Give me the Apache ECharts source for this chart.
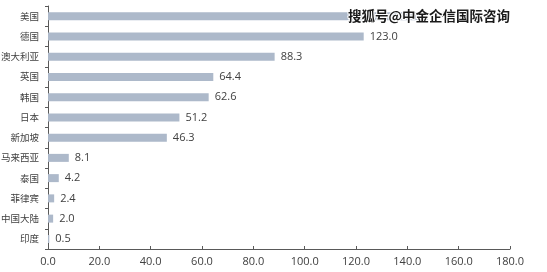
<!DOCTYPE html>
<html><head><meta charset="utf-8">
<script src="https://cdn.jsdelivr.net/npm/echarts@6/dist/echarts.min.js"></script>
<style>html,body{margin:0;padding:0;background:#fff}#c{width:547px;height:272px}</style>
</head><body><div id="c"></div>
<script>
const categories = ['美国','德国','澳大利亚','英国','韩国','日本','新加坡','马来西亚','泰国','菲律宾','中国大陆','印度'];
const values = [148.0,123.0,88.3,64.4,62.6,51.2,46.3,8.1,4.2,2.4,2.0,0.5];
const xTicks = [0,20,40,60,80,100,120,140,160,180];
const watermark = '搜狐号@中金企信国际咨询';

const chart = echarts.init(document.getElementById('c'));
chart.setOption({
  animation:false,
  grid:{left:48,right:37,top:6,bottom:23,containLabel:false,outerBoundsMode:'none'},
  xAxis:{type:'value',min:0,max:180,interval:20,
    axisLine:{show:true,lineStyle:{color:'#595959'}},
    axisTick:{show:true,inside:true,length:3,lineStyle:{color:'#595959'}},
    splitLine:{show:false},
    axisLabel:{color:'#404040',fontSize:11,fontFamily:'Open Sans',margin:7,formatter:v=>v.toFixed(1)}},
  yAxis:{type:'category',data:categories,inverse:true,
    axisLine:{lineStyle:{color:'#595959'}},
    axisTick:{show:true,length:3,lineStyle:{color:'#595959'}},
    axisLabel:{color:'#404040',fontSize:9.5,fontFamily:'Noto Sans CJK SC',margin:9}},
  series:[{type:'bar',data:values,barWidth:8,itemStyle:{color:'#adb9ca'},
    label:{show:true,position:'right',distance:6,color:'#404040',fontSize:11,fontFamily:'Open Sans',formatter:p=>p.value.toFixed(1)}}],
  graphic:[{type:'text',left:347,top:8,z:100,
    style:{text:watermark,fill:'#1a1a1a',fontSize:13.5,fontWeight:'bold',fontFamily:'Noto Sans CJK SC',stroke:'#fff',lineWidth:2}}]
});
</script></body></html>
